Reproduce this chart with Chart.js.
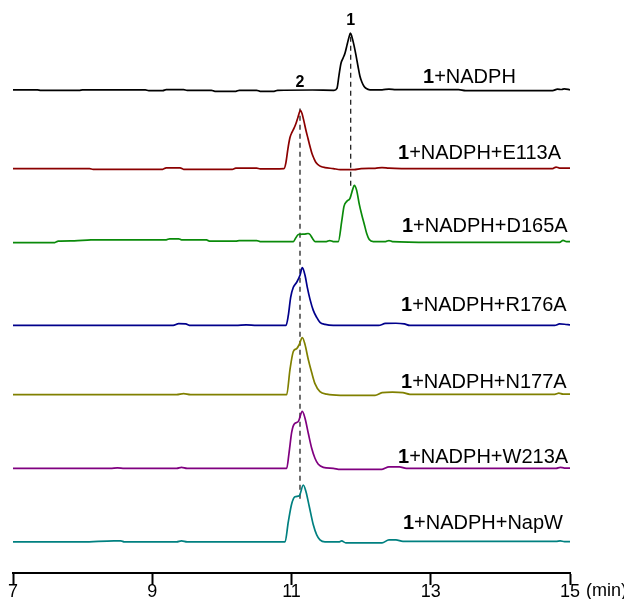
<!DOCTYPE html>
<html>
<head>
<meta charset="utf-8">
<script src="https://cdn.jsdelivr.net/npm/chart.js@4.4.1/dist/chart.umd.min.js"></script>
<style>
  html, body { margin: 0; padding: 0; background: #fff; }
  #wrap { width: 624px; height: 599px; }
</style>
</head>
<body>
<div id="wrap"><canvas id="hplc"></canvas></div>
<script>
// retention time (min) and signal height for each trace
const tickValues = [7, 9, 11, 13, 15];

const blackT = [7.0, 7.35, 7.4, 7.95, 8.0, 8.9, 8.95, 9.15, 9.2, 9.45, 9.5, 9.85, 9.9, 10.2, 10.25, 10.5, 10.55, 10.75, 10.8, 11.3, 11.61,
  11.653, 11.682, 11.711, 11.74, 11.768, 11.797, 11.826, 11.847, 11.869, 11.897, 11.926, 11.955, 11.983, 12.012, 12.041, 12.069, 12.127,
  12.3, 12.4, 12.5, 13.4, 13.5, 14.75, 14.82, 14.88, 14.92, 15.0];
const blackV = [0.5, 0.5, 0, 0, 0.5, 0.5, -0.3, -0.3, 0.7, 0.7, 0, 0, -1, -1, 0, 0, -1, -1, 0, 0.3, 0,
  2, 15, 27, 32, 37, 45, 53, 57, 53, 45, 35, 24, 14, 8, 4, 2, 0.5,
  0.5, 1.2, 0.7, 0.7, -0.3, -0.3, 1.2, 0.8, 1.5, 0.5];

const redT = [7.0, 8.1, 8.15, 9.15, 9.2, 9.4, 9.45, 10.15, 10.2, 10.5, 10.55, 10.892,
  10.92, 10.949, 10.978, 11.006, 11.035, 11.064, 11.092, 11.129, 11.151, 11.179, 11.208, 11.237, 11.266, 11.294, 11.323, 11.352, 11.381, 11.424, 11.482,
  11.6, 11.7, 11.9, 12.0, 12.2, 12.3, 12.4, 12.8, 14.75, 14.8, 14.85, 15.0];
const redV = [0, 0, -0.7, -0.7, 0.7, 0.7, -0.7, -0.7, 0.5, 0.5, -0.3, 0,
  6, 20, 31, 36, 40, 45, 51, 58, 55, 47, 38, 30, 22, 15, 10, 6, 4, 2, 1,
  0, -1, -1, 0, 0.3, 1, 0.5, 0, 0, 1.5, 0.5, 0.5];

const greenT = [7.0, 7.6, 7.65, 7.88, 8.12, 9.2, 9.25, 9.38, 9.42, 9.78, 9.82, 10.2, 10.25, 10.5, 10.55, 11.026,
  11.065, 11.098, 11.18, 11.237, 11.266, 11.302, 11.338, 11.5, 11.55, 11.6, 11.672,
  11.721, 11.754, 11.793, 11.84, 11.879, 11.902, 11.936, 11.974, 12.008, 12.046, 12.08, 12.117, 12.175,
  12.35, 12.4, 12.45, 13.0, 14.85, 14.9, 14.95, 15.0];
const greenV = [-1, -1, 0.4, 0.7, 1.7, 1.7, 2.7, 2.7, 1.7, 1.7, 0.4, 0.4, 1, 1, 0, 0,
  4, 7, 7.4, 8, 7, 3, 0, 0, 1, 0, 0,
  20, 35, 40, 43, 52, 56, 51, 37, 27, 17, 8, 2, 0,
  0, 1, 0, -0.8, -0.8, 1.2, 0, 0];

const blueT = [7.0, 8.0, 9.3, 9.38, 9.48, 9.55, 10.2, 10.35, 10.5, 10.921,
  10.954, 10.988, 11.026, 11.075, 11.122, 11.155, 11.194, 11.227, 11.266, 11.313, 11.362, 11.409, 11.482,
  11.6, 12.25, 12.35, 12.5, 12.62, 12.7, 14.78, 14.85, 14.92, 15.0];
const blueV = [0, 0, 0, 1.8, 1.5, 0, 0, 0.6, 0, 0,
  10, 28, 38, 43, 50, 57.6, 50, 38, 26, 15, 8, 3, 1,
  0, 0, 2, 2.2, 1.5, 0, 0, 1.5, 1.2, 0.5];

const oliveT = [7.0, 8.5, 9.35, 9.45, 9.55, 10.931,
  10.978, 11.026, 11.075, 11.112, 11.155, 11.194, 11.241, 11.29, 11.337, 11.409, 11.506,
  11.7, 12.2, 12.3, 12.45, 12.6, 12.7, 14.78, 14.84, 14.9, 15.0];
const oliveV = [0, 0, 0, 1, 0, 0,
  25, 43, 46, 50, 57, 50, 35, 22, 11, 3, 0.5,
  -0.6, -0.6, 2, 2.6, 2, 0.4, 0.4, 1.5, 0.5, 0.5];

const purpleT = [7.0, 8.4, 8.5, 8.6, 9.35, 9.42, 9.5, 10.931,
  10.964, 11.003, 11.037, 11.098, 11.155, 11.194, 11.241, 11.29, 11.337, 11.385, 11.457,
  11.6, 11.7, 12.3, 12.4, 12.55, 12.65, 14.8, 14.86, 14.92, 15.0];
const purpleV = [0, 0, 0.5, 0, 0, 1, 0, 0,
  15, 36, 44, 46.7, 56.7, 50, 35, 20, 10, 4, 1,
  0, -1, -1, 1.5, 1.5, 0, 0, 1, 0.3, 0.3];

const tealT = [7.0, 8.0, 8.45, 8.55, 8.6, 9.35, 9.42, 9.5, 10.2, 10.907,
  10.954, 11.003, 11.05, 11.112, 11.169, 11.208, 11.256, 11.313, 11.362, 11.409, 11.481,
  11.68, 11.72, 11.78, 12.3, 12.4, 12.5, 12.6, 14.8, 14.86, 14.92, 15.0];
const tealV = [0, 0, 1, 1, 0, 0, 1, 0, 0, 0,
  20, 38, 45, 46, 56.7, 50, 35, 17, 7, 2, 0,
  0, 1, -1, -1, 2, 2, 0.5, 0.5, 1, 0.3, 0.3];

const traceNames = ['+NADPH', '+NADPH+E113A', '+NADPH+D165A', '+NADPH+R176A', '+NADPH+N177A', '+NADPH+W213A', '+NADPH+NapW'];
const traceColors = ['#000000', '#8b0000', '#0a8a0a', '#00008b', '#808000', '#800080', '#008080'];
const traceTimes = [blackT, redT, greenT, blueT, oliveT, purpleT, tealT];
const traceValues = [blackV, redV, greenV, blueV, oliveV, purpleV, tealV];

// stacking: baseline of each trace on the (hidden) y scale
const offsets = [481, 403, 330.3, 246.7, 177.7, 104.3, 31];
// where the trace names sit (time, y)
const labelPos = [[12.889, 494], [12.53, 418], [12.587, 345], [12.573, 267], [12.573, 190], [12.53, 115], [12.6, 49]];

// dashed guide lines at the two product peaks
const peakLines = [
  { t: 11.122, from: 74, to: 463, name: '2', labelY: 489 },
  { t: 11.85, from: 386, to: 536, name: '1', labelY: 550 }
];

const datasets = traceTimes.map((times, i) => ({
  label: '1' + traceNames[i],
  data: times.map((t, j) => ({ x: t, y: traceValues[i][j] + offsets[i] })),
  borderColor: traceColors[i],
  borderWidth: 1.7,
  pointRadius: 0,
  cubicInterpolationMode: 'monotone',
  tension: 0.4,
  fill: false
}));

peakLines.forEach(p => {
  datasets.push({
    label: 'peak ' + p.name,
    data: [{ x: p.t, y: p.from }, { x: p.t, y: p.to }],
    borderColor: '#222',
    borderWidth: 1.3,
    borderDash: [5, 4],
    pointRadius: 0,
    fill: false
  });
});

const FONT = '"Liberation Sans", Arial, sans-serif';

const textPlugin = {
  id: 'traceText',
  afterDraw(chart) {
    const ctx = chart.ctx;
    const xs = chart.scales.x, ys = chart.scales.y;
    ctx.save();
    ctx.fillStyle = '#000';
    ctx.textBaseline = 'middle';
    ctx.textAlign = 'left';
    labelPos.forEach((pos, i) => {
      let x = xs.getPixelForValue(pos[0]);
      const y = ys.getPixelForValue(pos[1]);
      ctx.font = 'bold 20px ' + FONT;
      ctx.fillText('1', x, y);
      x += ctx.measureText('1').width;
      ctx.font = '20px ' + FONT;
      ctx.fillText(traceNames[i], x, y);
    });
    // peak numbers
    ctx.textAlign = 'center';
    ctx.font = 'bold 16px ' + FONT;
    peakLines.forEach(p => {
      ctx.fillText(p.name, xs.getPixelForValue(p.t), ys.getPixelForValue(p.labelY));
    });
    // unit after the last tick label
    ctx.font = '18px ' + FONT;
    ctx.textAlign = 'left';
    ctx.fillText('(min)', xs.getPixelForValue(15) + 16, chart.chartArea.bottom + 18);
    ctx.restore();
  }
};

new Chart(document.getElementById('hplc').getContext('2d'), {
  type: 'line',
  data: { datasets: datasets },
  options: {
    responsive: true,
    maintainAspectRatio: false,
    animation: false,
    layout: { padding: { left: 13, right: 54, top: 0, bottom: 0 } },
    plugins: { legend: { display: false }, tooltip: { enabled: false } },
    scales: {
      x: {
        type: 'linear',
        min: 7,
        max: 15,
        afterBuildTicks: scale => { scale.ticks = tickValues.map(v => ({ value: v })); },
        grid: { drawOnChartArea: false, drawTicks: true, tickLength: 12, tickWidth: 2, tickColor: '#000' },
        border: { display: true, color: '#000', width: 2 },
        ticks: { color: '#000', padding: -2, maxRotation: 0, font: { family: FONT, size: 18, lineHeight: 1 } }
      },
      y: {
        display: false,
        min: 0,
        max: 571
      }
    }
  },
  plugins: [textPlugin]
});
</script>
</body>
</html>
